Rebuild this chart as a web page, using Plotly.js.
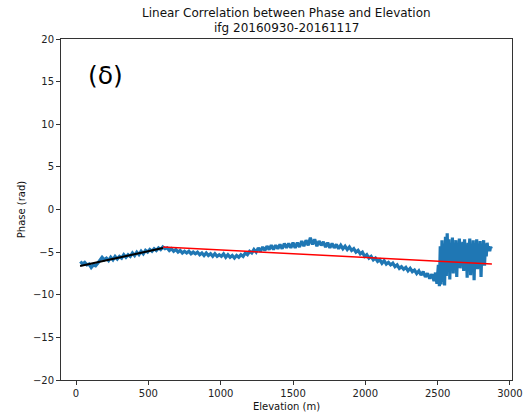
<!DOCTYPE html>
<html>
<head>
<meta charset="utf-8">
<script src="https://cdn.plot.ly/plotly-3.0.1.min.js"></script>
<style>html,body{margin:0;padding:0;background:#fff;}#chart{width:527px;height:418px;}</style>
</head>
<body>
<div id="chart"></div>
<script>
const elevation = [30,45,60,75,90,105,120,135,150,165,180,195,210,225,240,255,270,285,300,315,330,345,360,375,390,405,420,435,450,465,480,495,510,525,540,555,570,585,600,615,630,645,660,675,690,705,720,735,750,765,780,795,810,825,840,855,870,885,900,915,930,945,960,975,990,1005,1020,1035,1050,1065,1080,1095,1110,1125,1140,1155,1170,1185,1200,1215,1230,1245,1260,1275,1290,1305,1320,1335,1350,1365,1380,1395,1410,1425,1440,1455,1470,1485,1500,1515,1530,1545,1560,1575,1590,1605,1620,1635,1650,1665,1680,1695,1710,1725,1740,1755,1770,1785,1800,1815,1830,1845,1860,1875,1890,1905,1920,1935,1950,1965,1980,1995,2010,2025,2040,2055,2070,2085,2100,2115,2130,2145,2160,2175,2190,2205,2220,2235,2250,2265,2280,2295,2310,2325,2340,2355,2370,2385,2400,2415,2430,2445,2460,2475,2485,2495,2505,2512,2518,2524,2530,2536,2542,2548,2554,2560,2566,2572,2578,2584,2590,2596,2602,2608,2614,2620,2626,2632,2638,2644,2650,2656,2662,2668,2674,2680,2686,2692,2698,2704,2710,2716,2722,2728,2734,2740,2746,2752,2758,2764,2770,2776,2782,2788,2794,2800,2806,2812,2818,2824,2830,2836,2842,2848,2854,2860,2866,2872];
const phase = [-6.1,-6.4,-6.2,-6.5,-6.4,-6.8,-6.5,-6.6,-6.3,-6.0,-5.6,-5.9,-5.7,-6.0,-5.6,-5.9,-5.5,-5.8,-5.5,-5.7,-5.3,-5.6,-5.3,-5.5,-5.1,-5.4,-5.0,-5.3,-4.9,-5.2,-4.8,-5.0,-4.7,-4.9,-4.6,-4.8,-4.5,-4.7,-4.4,-4.6,-4.5,-4.8,-4.6,-4.9,-4.7,-5.0,-4.8,-5.1,-4.9,-5.1,-4.9,-5.2,-5.0,-5.2,-5.0,-5.3,-5.1,-5.4,-5.1,-5.4,-5.2,-5.5,-5.2,-5.5,-5.3,-5.5,-5.2,-5.6,-5.3,-5.6,-5.4,-5.7,-5.4,-5.6,-5.3,-5.5,-5.1,-5.3,-4.9,-5.1,-4.7,-5.0,-4.5,-4.9,-4.4,-4.8,-4.3,-4.7,-4.2,-4.7,-4.2,-4.6,-4.1,-4.6,-4.0,-4.5,-4.0,-4.5,-3.9,-4.5,-3.9,-4.4,-3.7,-4.3,-3.6,-4.2,-3.3,-4.1,-3.5,-4.3,-3.7,-4.2,-3.8,-4.4,-3.9,-4.5,-4.0,-4.5,-4.1,-4.6,-4.2,-4.6,-4.3,-4.7,-4.4,-4.8,-4.6,-5.0,-4.8,-5.2,-5.0,-5.5,-5.3,-5.7,-5.5,-5.9,-5.7,-6.1,-5.9,-6.3,-6.0,-6.4,-6.2,-6.5,-6.3,-6.7,-6.5,-6.9,-6.7,-7.0,-6.8,-7.2,-6.9,-7.3,-7.1,-7.5,-7.2,-7.7,-7.3,-7.9,-7.5,-8.1,-7.6,-8.4,-7.4,-8.7,-6.5,-9.0,-4.3,-8.8,-3.6,-8.5,-4.0,-8.9,-3.2,-7.8,-2.8,-6.5,-3.5,-8.2,-4.0,-6.8,-3.3,-7.5,-4.2,-6.0,-3.6,-7.9,-4.4,-5.8,-3.4,-6.9,-4.0,-5.5,-3.8,-7.2,-3.5,-6.4,-4.1,-8.0,-3.9,-5.6,-3.4,-7.7,-4.3,-6.2,-3.6,-8.3,-4.0,-5.9,-3.5,-7.0,-4.2,-6.1,-3.7,-7.9,-4.4,-5.7,-3.6,-6.6,-4.1,-5.5,-3.9,-4.8,-4.3,-4.9,-4.4,-4.6];
// Fitted lines (end points)
const fitLowElev = [28, 601];
const fitLowPhase = [-6.63, -4.52];
const fitHighElev = [601, 2875];
const fitHighPhase = [-4.40, -6.39];
const xTicks = [0,500,1000,1500,2000,2500,3000];
const yTicks = [-20,-15,-10,-5,0,5,10,15,20];
const titleLines = ['Linear Correlation between Phase and Elevation', 'ifg 20160930-20161117'];

const font = 'DejaVu Sans, sans-serif';
const traces = [
  {x: elevation, y: phase, type: 'scatter', mode: 'lines', line: {color: '#1f77b4', width: 3.2}, hoverinfo: 'skip'},
  {x: fitHighElev, y: fitHighPhase, type: 'scatter', mode: 'lines', line: {color: '#ff0000', width: 1.5}},
  {x: fitLowElev, y: fitLowPhase, type: 'scatter', mode: 'lines', line: {color: '#000000', width: 2}}
];
const axisCommon = {
  showgrid: false, zeroline: false, showline: true, mirror: true,
  linecolor: '#333', linewidth: 1, ticks: 'outside', ticklen: 4, tickcolor: '#333',
  tickfont: {family: font, size: 10, color: '#222'}
};
const layout = {
  width: 527, height: 418,
  margin: {l: 61, r: 15, t: 39, b: 38},
  paper_bgcolor: '#fff', plot_bgcolor: '#fff',
  showlegend: false,
  xaxis: Object.assign({}, axisCommon, {range: [-104, 3014], tickvals: xTicks,
          title: {text: 'Elevation (m)', font: {family: font, size: 10, color: '#111'}, standoff: 4}}),
  yaxis: Object.assign({}, axisCommon, {range: [-20, 20], tickvals: yTicks,
          title: {text: 'Phase (rad)', font: {family: font, size: 10, color: '#111'}, standoff: 5}}),
  annotations: [
    {x: 70, y: 15.7, xref: 'x', yref: 'y', text: '(δ)', showarrow: false,
     xanchor: 'left', yanchor: 'middle', font: {family: font, size: 25, color: '#000'}},
    {x: 0.5, y: 1.076, xref: 'paper', yref: 'paper', text: titleLines[0], showarrow: false,
     xanchor: 'center', yanchor: 'middle', font: {family: font, size: 12, color: '#111'}},
    {x: 0.5, y: 1.032, xref: 'paper', yref: 'paper', text: titleLines[1], showarrow: false,
     xanchor: 'center', yanchor: 'middle', font: {family: font, size: 12, color: '#111'}}
  ]
};
Plotly.newPlot('chart', traces, layout, {staticPlot: true, displayModeBar: false});
</script>
</body>
</html>
